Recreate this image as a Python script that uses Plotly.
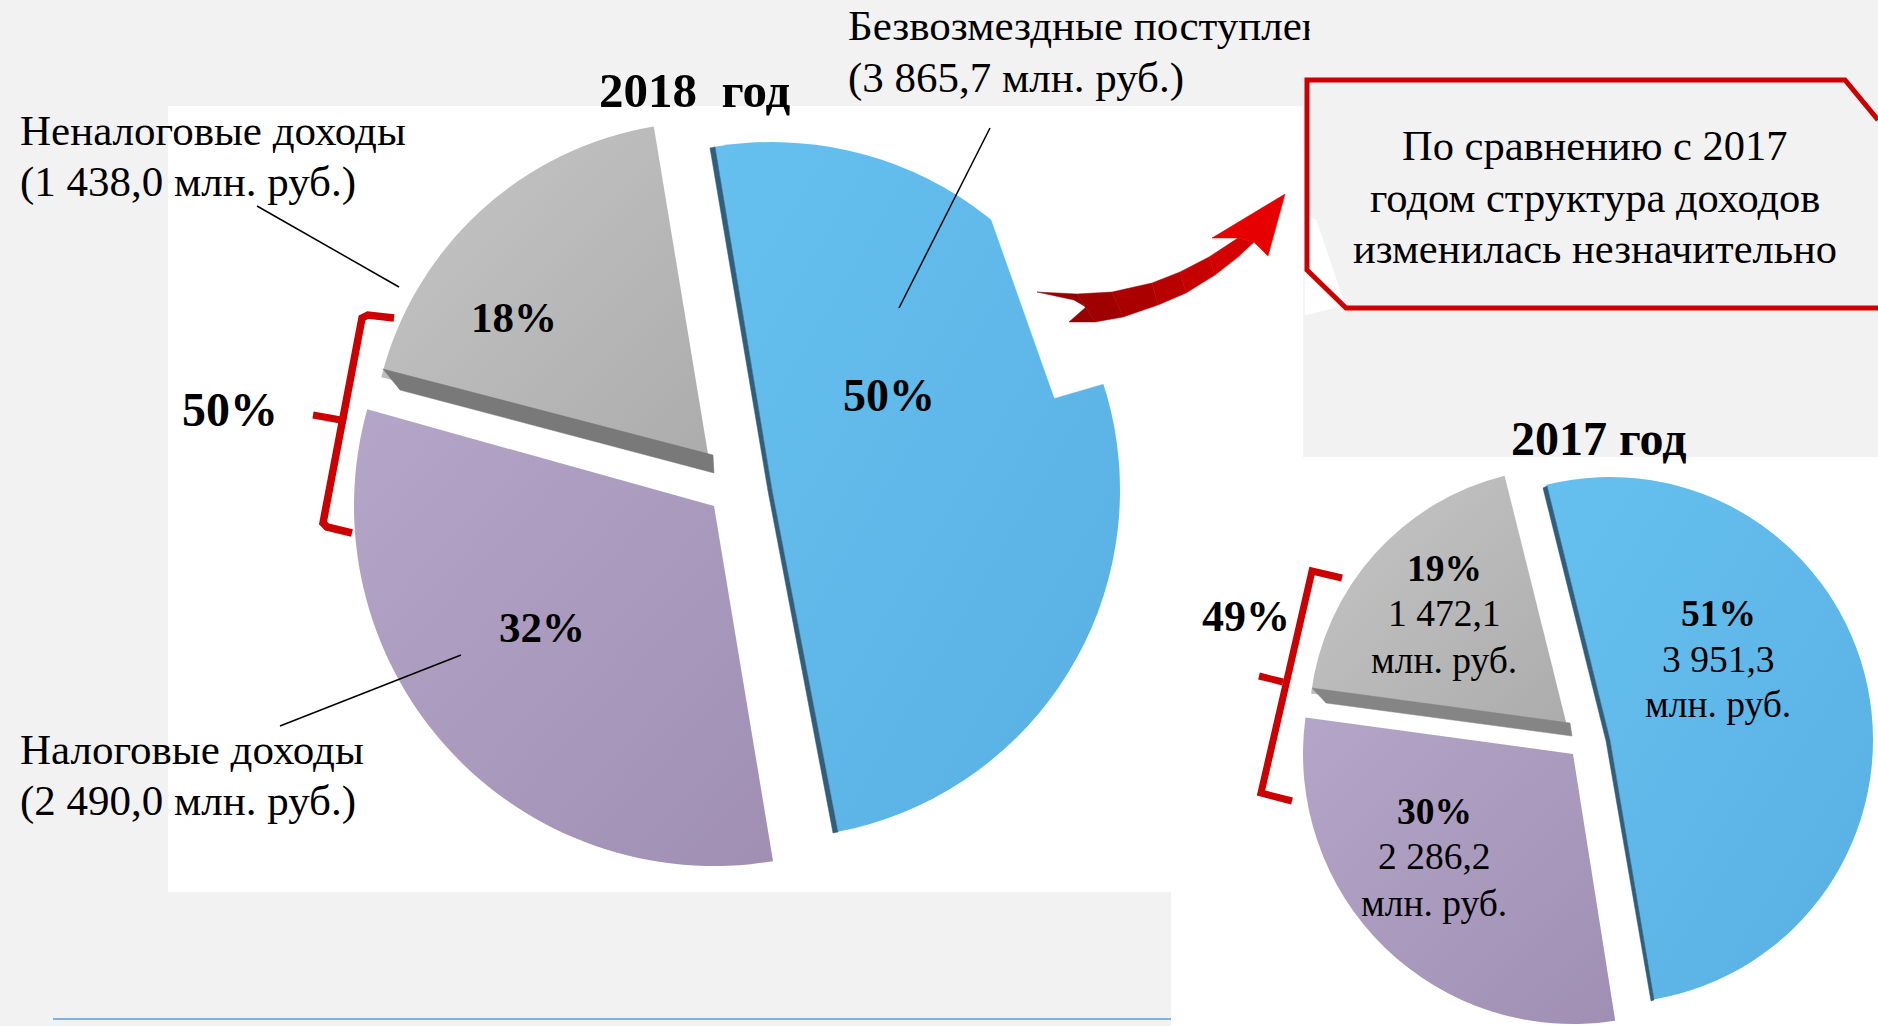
import plotly.graph_objects as go

W, H = 1878, 1026
SERIF = "Liberation Serif"

# ---- data ----
categories = ["Безвозмездные поступления", "Налоговые доходы", "Неналоговые доходы"]
values_2018 = [3865.7, 2490.0, 1438.0]
values_2017 = [3951.3, 2286.2, 1472.1]
slice_colors = ["#5fb8e8", "#a999bc", "#b8b8b8"]

# per slice: apex x, apex y, radius, rotation (pixels / degrees on the page)
layout_2018 = [(772, 490, 348, -9.5), (714, 506, 360, -8), (709, 460, 338, -9.4)]
layout_2017 = [(1610, 740, 263, -14), (1573, 754, 270, -13.5), (1567, 726, 258, -14)]

fx = lambda x: x / W
fy = lambda y: 1 - y / H


def path(pts, closed=True):
    s = "M" + " L".join(f"{fx(x):.5f},{fy(y):.5f}" for x, y in pts)
    return s + (" Z" if closed else "")


fig = go.Figure()


def add_slices(values, geom):
    for i, (cx, cy, r, rot) in enumerate(geom):
        colors = ["rgba(0,0,0,0)"] * len(values)
        colors[i] = slice_colors[i]
        fig.add_trace(go.Pie(
            labels=categories, values=values, sort=False, direction="clockwise",
            rotation=rot, textinfo="none", hoverinfo="label+value",
            showlegend=False,
            marker=dict(colors=colors, line=dict(width=0)),
            domain=dict(x=[fx(cx - r), fx(cx + r)], y=[fy(cy + r), fy(cy - r)]),
        ))


add_slices(values_2018, layout_2018)
add_slices(values_2017, layout_2017)

shapes = []


def rect(x0, y0, x1, y1, color):
    shapes.append(dict(type="rect", xref="paper", yref="paper", layer="below",
                       x0=fx(x0), x1=fx(x1), y0=fy(y1), y1=fy(y0),
                       fillcolor=color, line=dict(width=0)))


def poly(pts, color):
    shapes.append(dict(type="path", xref="paper", yref="paper", layer="above",
                       path=path(pts), fillcolor=color, line=dict(color=color, width=0.5)))


def stroke(d, color, width):
    shapes.append(dict(type="path", xref="paper", yref="paper", layer="above",
                       path=d, line=dict(color=color, width=width)))


def seg(pts, color, width):
    stroke(path(pts, closed=False), color, width)


def curve(p0, c, p1):
    return (f"M{fx(p0[0]):.5f},{fy(p0[1]):.5f} Q{fx(c[0]):.5f},{fy(c[1]):.5f} "
            f"{fx(p1[0]):.5f},{fy(p1[1]):.5f}")


# page panels
rect(168, 106, 1303, 892, "#ffffff")
rect(1171, 457, 1878, 1026, "#ffffff")

# white cut-out over the blue slice
poly([(991.5, 220), (1054.5, 398), (1106, 383), (1303, 305), (1303, 150), (1000, 150)], "#ffffff")
poly([(1305, 215), (1316, 220), (1345, 305), (1305, 315)], "#ffffff")

# slice depth edges
poly([(383, 369), (713, 455), (714, 473), (400, 390)], "#797979")
poly([(1312, 688), (1570, 723), (1572, 736), (1326, 703)], "#858585")
poly([(710, 148), (715, 147), (772, 490), (838, 832), (833, 833), (768, 491)], "#2f5f7c")
poly([(1543, 488), (1547, 486), (1610, 740), (1654, 1000), (1651, 1001), (1606, 741)], "#2f5f7c")

# arrow
poly([(1037, 292), (1077, 294), (1095, 322), (1069, 322), (1086, 307), (1074, 300)], "#960000")
poly([(1077, 294), (1112, 292), (1123, 317), (1095, 322)], "#9f0000")
poly([(1112, 292), (1152, 283), (1158, 305), (1123, 317)], "#aa0000")
poly([(1152, 283), (1180, 272), (1186, 293), (1158, 305)], "#b80000")
poly([(1180, 272), (1209, 257), (1215, 275), (1186, 293)], "#c60000")
poly([(1209, 257), (1238, 238), (1254, 242), (1238, 257), (1215, 275)], "#d40000")
poly([(1238, 238), (1212, 238), (1285, 194), (1268, 256), (1254, 242)], "#e60000")

# callout border
seg([(1878, 120), (1845, 80), (1307, 80), (1307, 270), (1346, 308), (1878, 308)], "#cc0000", 5)

# brackets
stroke(path([(394, 318), (368, 315), (362, 318), (323, 523), (327, 527), (352, 533)], closed=False), "#cc0000", 7.5)
stroke(curve((313, 415), (330, 418), (346, 421)), "#cc0000", 7)
seg([(1342, 578), (1312, 571), (1261, 793), (1292, 801)], "#cc0000", 7)
seg([(1259, 676), (1283, 682)], "#cc0000", 7)

# leader lines
seg([(990, 128), (899, 308)], "#000000", 1.5)
seg([(257, 206), (399, 287)], "#000000", 1.5)
seg([(280, 726), (461, 655)], "#000000", 1.5)

# rule at the bottom of the page
seg([(53, 1019), (1171, 1019)], "#5b9bd5", 1.5)

annotations = []


def text(x, y, s, size, bold=False, anchor="center"):
    annotations.append(dict(
        xref="paper", yref="paper", x=fx(x), y=fy(y), xanchor=anchor, yanchor="middle",
        text=f"<b>{s}</b>" if bold else s, showarrow=False, borderpad=0,
        font=dict(family=SERIF, size=size, color="#000000")))


LBL = 43
text(847, 25, "Безвозмездные поступления", LBL, anchor="left")
text(847, 78, "(3 865,7 млн. руб.)", LBL, anchor="left")
# the panel edge hides the end of the first label, as in the source slide
annotations.append(dict(xref="paper", yref="paper", x=fx(1309), y=fy(2), xanchor="left", yanchor="top",
                        text=" ", showarrow=False, width=260, height=68, bgcolor="#f2f2f2", borderpad=0))
text(19, 130, "Неналоговые доходы", LBL, anchor="left")
text(19, 182, "(1 438,0 млн. руб.)", LBL, anchor="left")
text(19, 749, "Налоговые доходы", LBL, anchor="left")
text(19, 801, "(2 490,0 млн. руб.)", LBL, anchor="left")

text(695, 91, "2018  год", 49, bold=True)
text(1599, 439, "2017 год", 48, bold=True)

text(889, 395, "50%", 46, bold=True)
text(514, 317, "18%", 43, bold=True)
text(542, 627, "32%", 43, bold=True)
text(230, 409, "50%", 48, bold=True)
text(1246, 616, "49%", 44, bold=True)

text(1718, 613, "51%", 37.5, bold=True)
text(1718, 659, "3 951,3", 37.5)
text(1718, 704, "млн. руб.", 37.5)
text(1444, 568, "19%", 37.5, bold=True)
text(1444, 613, "1 472,1", 37.5)
text(1444, 660, "млн. руб.", 37.5)
text(1434, 811, "30%", 37.5, bold=True)
text(1434, 856, "2 286,2", 37.5)
text(1434, 903, "млн. руб.", 37.5)

text(1595, 145, "По сравнению с 2017", 42.5)
text(1595, 198, "годом структура доходов", 42.5)
text(1595, 248, "изменилась незначительно", 42.5)

fig.update_layout(width=W, height=H, margin=dict(l=0, r=0, t=0, b=0),
                  paper_bgcolor="#f2f2f2", plot_bgcolor="#f2f2f2",
                  shapes=shapes, annotations=annotations, showlegend=False,
                  font=dict(family=SERIF))

# soft top-left to bottom-right shading on the slices, as in the source slide
post = """
document.body.style.margin='0';document.documentElement.style.overflow='hidden';
var svg=document.querySelector('.main-svg');
var defs=svg.querySelector('defs');
var ns='http://www.w3.org/2000/svg';
var stops=[['#66c0ef','#58b0e2'],['#b4a6c8','#a08fb3'],['#c6c6c6','#acacac']];
stops.forEach(function(s,i){
  var g=document.createElementNS(ns,'linearGradient');
  g.setAttribute('id','sliceshade'+i);
  g.setAttribute('x1','0');g.setAttribute('y1','0');g.setAttribute('x2','1');g.setAttribute('y2','1');
  [[0,s[0]],[1,s[1]]].forEach(function(p){
    var e=document.createElementNS(ns,'stop');
    e.setAttribute('offset',p[0]);e.setAttribute('stop-color',p[1]);g.appendChild(e);
  });
  defs.appendChild(g);
});
document.querySelectorAll('.pielayer .trace').forEach(function(t,k){
  var i=k%3;var sl=t.querySelectorAll('.slice path.surface');
  if(sl[i]){sl[i].style.fill='url(#sliceshade'+i+')';}
});
"""

fig.write_html("out.html", post_script=post, config=dict(displayModeBar=False))
